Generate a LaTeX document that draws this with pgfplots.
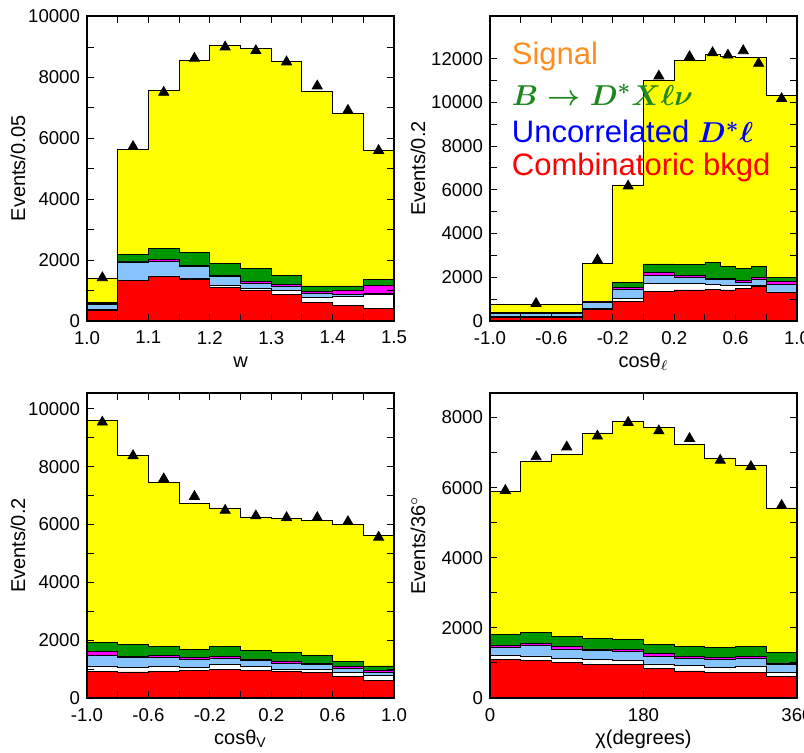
\documentclass[border=0pt]{standalone}
\usepackage{amsmath}
\usepackage{pgfplots}
\pgfplotsset{compat=1.18}
\usepackage{pgfplotstable}
\usepackage{fontspec}
\setmainfont{Liberation Sans}

\definecolor{cyel}{RGB}{255,255,0}
\definecolor{cgrn}{RGB}{0,150,0}
\definecolor{cmag}{RGB}{255,0,255}
\definecolor{cblu}{RGB}{135,195,255}
\definecolor{cred}{RGB}{255,0,0}
\definecolor{corange}{RGB}{255,140,30}
\definecolor{clegG}{RGB}{30,135,30}

% panel 1: w
\pgfplotstableread{
x R W B M G Y
1.00 360 380 550 570 610 1390
1.05 1320 1340 1940 1960 2180 5650
1.10 1460 1480 1970 2020 2390 7560
1.15 1370 1390 1790 1810 2250 8570
1.20 1110 1180 1450 1500 1900 9040
1.25 990 1070 1240 1290 1730 8960
1.30 860 990 1140 1210 1510 8540
1.35 610 770 890 960 1150 7550
1.40 500 800 860 990 1150 6820
1.45 420 860 890 1170 1370 5610
1.50 420 860 890 1170 1370 5610
}\tabA
\pgfplotstableread{
x d
1.025 1420
1.075 5730
1.125 7510
1.175 8630
1.225 9000
1.275 8880
1.325 8510
1.375 7720
1.425 6920
1.475 5600
}\datA

% panel 2: cos theta_l
\pgfplotstableread{
x R W B M G Y
-1.0 150 220 360 370 400 760
-0.4 530 560 860 870 890 2640
-0.2 880 1050 1450 1540 1750 6220
0.0 1340 1720 2100 2210 2610 11020
0.2 1420 1700 2000 2070 2590 11920
0.4 1450 1680 1880 1950 2680 12200
0.5 1420 1630 1880 1950 2480 12090
0.6 1480 1620 1770 1840 2410 12070
0.7 1600 1620 1920 2000 2480 12060
0.8 1300 1330 1690 1800 1980 10300
1.0 1300 1330 1690 1800 1980 10300
}\tabB
\pgfplotstableread{
x d
-0.7 800
-0.3 2790
-0.1 6170
0.1 11200
0.3 12090
0.45 12270
0.55 12160
0.65 12360
0.75 11780
0.9 10170
}\datB

% panel 3: cos theta_V
\pgfplotstableread{
x R W B M G Y
-1.0 930 1110 1480 1600 1910 9610
-0.8 900 1070 1400 1450 1850 8380
-0.6 930 1090 1400 1480 1770 7460
-0.4 960 1070 1330 1400 1680 6740
-0.2 990 1150 1380 1450 1770 6570
0.0 960 1080 1300 1350 1630 6250
0.2 920 1000 1210 1280 1570 6200
0.4 870 980 1160 1210 1460 6140
0.6 730 880 1020 1090 1270 5990
0.8 610 780 870 950 1110 5620
1.0 610 780 870 950 1110 5620
}\tabC
\pgfplotstableread{
x d
-0.9 9540
-0.7 8380
-0.5 7580
-0.3 6970
-0.1 6490
0.1 6300
0.3 6240
0.5 6240
0.7 6100
0.9 5560
}\datC

% panel 4: chi
\pgfplotstableread{
x R W B M G Y
0 1100 1220 1430 1490 1820 5880
36 1080 1200 1490 1560 1870 6740
72 1010 1130 1400 1460 1750 6940
108 950 1100 1350 1400 1690 7540
144 950 1080 1320 1380 1660 7900
180 830 970 1190 1270 1530 7710
216 770 920 1130 1190 1470 7220
252 740 880 1100 1160 1440 6830
288 740 900 1140 1190 1480 6630
324 620 730 950 1000 1290 5420
360 620 730 950 1000 1290 5420
}\tabD
\pgfplotstableread{
x d
18 5920
54 6880
90 7160
126 7470
162 7860
198 7620
234 7400
270 6780
306 6600
342 5490
}\datD

\pgfplotsset{
  hist/.style={
    scale only axis, width=153.5pt, height=152.5pt, anchor=south west,
    axis on top, ymin=0,
    axis line style={line width=0.65pt, black},
    tick style={black, line width=0.5pt},
    major tick length=3.5pt, minor tick length=3.5pt, tick align=inside,
    minor y tick num=1,
    scaled y ticks=false,
    /pgf/number format/assume math mode=true,
    yticklabel style={/pgf/number format/1000 sep={}, font=\fontsize{9.3}{10}\selectfont},
    xticklabel style={font=\fontsize{9.3}{10}\selectfont, yshift=-1.5pt},
    label style={font=\fontsize{11}{13}\selectfont},
    every axis x label/.style={at={(axis description cs:0.5,-0.135)}, anchor=center},
  },
  lay/.style={const plot, draw=black, line width=0.4pt, fill=#1},
  dat/.style={only marks, mark=triangle*, mark size=2.9pt, black},
}

\begin{document}
\begin{tikzpicture}
\path[use as bounding box] (0,0) rectangle (402pt,376.5pt);

% ---------- panel 1 ----------
\begin{axis}[hist, at={(43.5pt,216pt)},
  xmin=1.0, xmax=1.5, ymax=10020,
  xtick={1.0,1.1,1.2,1.3,1.4,1.5}, xticklabels={1.0,1.1,1.2,1.3,1.4,1.5},
  minor xtick={1.05,1.15,1.25,1.35,1.45},
  ytick={0,2000,4000,6000,8000,10000},
  xlabel={w}, ylabel={Events/0.05},
  every axis y label/.style={at={(axis description cs:-0.225,0.5)}, rotate=90, anchor=center},
]
\addplot[lay=cyel] table[x=x,y=Y] {\tabA} \closedcycle;
\addplot[lay=cgrn] table[x=x,y=G] {\tabA} \closedcycle;
\addplot[lay=cmag] table[x=x,y=M] {\tabA} \closedcycle;
\addplot[lay=cblu] table[x=x,y=B] {\tabA} \closedcycle;
\addplot[lay=white] table[x=x,y=W] {\tabA} \closedcycle;
\addplot[lay=cred] table[x=x,y=R] {\tabA} \closedcycle;
\addplot[dat] table[x=x,y=d] {\datA};
\end{axis}

% ---------- panel 2 ----------
\begin{axis}[hist, at={(245pt,216pt)},
  xmin=-1, xmax=1, ymax=13950,
  xtick={-1,-0.6,-0.2,0.2,0.6,1}, xticklabels={-1.0,-0.6,-0.2,0.2,0.6,1.0},
  minor xtick={-0.8,-0.4,0,0.4,0.8},
  ytick={0,2000,4000,6000,8000,10000,12000},
  xlabel={cosθ$_{\ell}$}, ylabel={Events/0.2},
  every axis y label/.style={at={(axis description cs:-0.235,0.5)}, rotate=90, anchor=center},
]
\addplot[lay=cyel] table[x=x,y=Y] {\tabB} \closedcycle;
\addplot[lay=cgrn] table[x=x,y=G] {\tabB} \closedcycle;
\addplot[lay=cmag] table[x=x,y=M] {\tabB} \closedcycle;
\addplot[lay=cblu] table[x=x,y=B] {\tabB} \closedcycle;
\addplot[lay=white] table[x=x,y=W] {\tabB} \closedcycle;
\addplot[lay=cred] table[x=x,y=R] {\tabB} \closedcycle;
\addplot[dat] table[x=x,y=d] {\datB};
\node[anchor=west, text=corange, font=\fontsize{15.5}{18}\selectfont, inner sep=0pt] at (rel axis cs:0.07,0.866) {Signal};
\node[anchor=west, text=clegG, font=\fontsize{15.5}{18}\selectfont, inner sep=0pt] at (rel axis cs:0.07,0.741) {$\boldsymbol{B\rightarrow D^{*}X\ell\nu}$};
\node[anchor=west, text=blue, font=\fontsize{15.5}{18}\selectfont, inner sep=0pt] at (rel axis cs:0.07,0.620) {Uncorrelated $\boldsymbol{D^{*}\ell}$};
\node[anchor=west, text=red, font=\fontsize{15.5}{18}\selectfont, inner sep=0pt] at (rel axis cs:0.07,0.502) {Combinatoric bkgd};
\end{axis}

% ---------- panel 3 ----------
\begin{axis}[hist, at={(43.5pt,27.5pt)},
  xmin=-1, xmax=1, ymax=10550,
  xtick={-1,-0.6,-0.2,0.2,0.6,1}, xticklabels={-1.0,-0.6,-0.2,0.2,0.6,1.0},
  minor xtick={-0.8,-0.4,0,0.4,0.8},
  ytick={0,2000,4000,6000,8000,10000},
  xlabel={cosθ$_{\mathrm{V}}$}, ylabel={Events/0.2},
  every axis y label/.style={at={(axis description cs:-0.225,0.5)}, rotate=90, anchor=center},
]
\addplot[lay=cyel] table[x=x,y=Y] {\tabC} \closedcycle;
\addplot[lay=cgrn] table[x=x,y=G] {\tabC} \closedcycle;
\addplot[lay=cmag] table[x=x,y=M] {\tabC} \closedcycle;
\addplot[lay=cblu] table[x=x,y=B] {\tabC} \closedcycle;
\addplot[lay=white] table[x=x,y=W] {\tabC} \closedcycle;
\addplot[lay=cred] table[x=x,y=R] {\tabC} \closedcycle;
\addplot[dat] table[x=x,y=d] {\datC};
\end{axis}

% ---------- panel 4 ----------
\begin{axis}[hist, at={(245pt,27.5pt)},
  xmin=0, xmax=360, ymax=8700,
  xtick={0,180,360}, xticklabels={0,180,360},
  ytick={0,2000,4000,6000,8000},
  xlabel={χ(degrees)}, ylabel={Events/36$^{\circ}$},
  every axis y label/.style={at={(axis description cs:-0.235,0.5)}, rotate=90, anchor=center},
]
\addplot[lay=cyel] table[x=x,y=Y] {\tabD} \closedcycle;
\addplot[lay=cgrn] table[x=x,y=G] {\tabD} \closedcycle;
\addplot[lay=cmag] table[x=x,y=M] {\tabD} \closedcycle;
\addplot[lay=cblu] table[x=x,y=B] {\tabD} \closedcycle;
\addplot[lay=white] table[x=x,y=W] {\tabD} \closedcycle;
\addplot[lay=cred] table[x=x,y=R] {\tabD} \closedcycle;
\addplot[dat] table[x=x,y=d] {\datD};
\end{axis}
\end{tikzpicture}
\end{document}
